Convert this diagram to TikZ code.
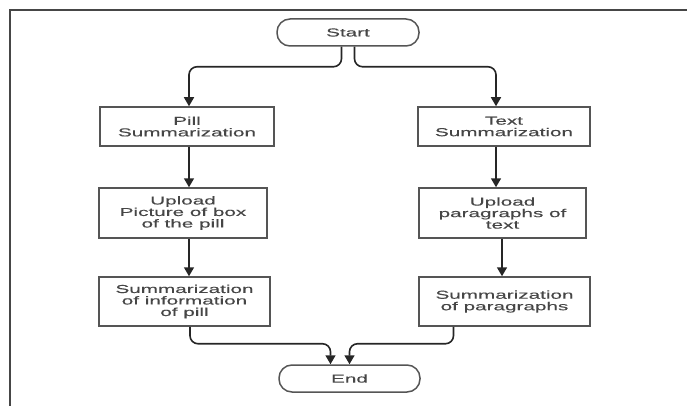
\documentclass[tikz,border=0pt]{standalone}
\usepackage{fontspec}
\setmainfont{Liberation Sans}[FakeStretch=1.8, FakeBold=0.2]
\usetikzlibrary{arrows.meta, positioning, calc}

\tikzset{
  stepbox/.style={draw=boxgrey, line width=1.5pt, text=textgrey, align=center,
    inner sep=0pt, font=\fontsize{11.5}{11.5}\selectfont},
  terminal/.style={stepbox, rounded corners=13pt},
  flow/.style={line width=1.6pt, draw=black!85, rounded corners=8pt,
    -{Triangle[width=10pt,length=9pt]}}
}

\begin{document}
\begin{tikzpicture}[x=1pt, y=-1pt]
  \definecolor{boxgrey}{RGB}{85,85,85}
  \definecolor{textgrey}{RGB}{70,70,70}
  \definecolor{framegrey}{RGB}{70,70,70}

  \useasboundingbox (0,0) rectangle (687,406);
  % outer frame (cut at right and bottom)
  \draw[framegrey, line width=2pt] (9.5,410) -- (9.5,10.5) -- (690,10.5);

  \node[terminal, minimum width=142pt, minimum height=27pt] (start) at (348,32.5) {Start};

  \node[stepbox, minimum width=174pt, minimum height=39pt] (pill) at (187,126.5) {Pill\\Summarization};
  \node[stepbox, minimum width=168pt, minimum height=50pt] (upic) at (183,213) {Upload\\Picture of box\\of the pill};
  \node[stepbox, minimum width=171pt, minimum height=49pt] (sinfo) at (184.5,301.5) {Summarization\\of information\\of pill};

  \node[stepbox, minimum width=172pt, minimum height=39pt] (text) at (504,126.5) {Text\\Summarization};
  \node[stepbox, minimum width=167pt, minimum height=50pt] (upara) at (502.5,213) {Upload\\paragraphs of\\text};
  \node[stepbox, minimum width=171pt, minimum height=49pt] (spara) at (504.5,301.5) {Summarization\\of paragraphs};

  \node[terminal, minimum width=141pt, minimum height=27pt] (end) at (349.5,378.5) {End};

  \draw[flow] ([xshift=-6.5pt]start.south) -- ++(0,20) -| ([xshift=2pt]pill.north);
  \draw[flow] ([xshift=6.5pt]start.south) -- ++(0,20) -| ([xshift=-8pt]text.north);

  \draw[flow] ([xshift=2pt]pill.south) -- ([xshift=6pt]upic.north);
  \draw[flow] ([xshift=6pt]upic.south) -- ([xshift=4.5pt]sinfo.north);
  \draw[flow] ([xshift=-8pt]text.south) -- ([xshift=-6.5pt]upara.north);
  \draw[flow] ([xshift=-0.5pt]upara.south) -- ([xshift=-2.5pt]spara.north);

  \draw[flow] ([xshift=5.5pt]sinfo.south) -- ++(0,17) -| ([xshift=-19pt]end.north);
  \draw[flow] ([xshift=-51pt]spara.south) -- ++(0,17) -| (end.north);
\end{tikzpicture}
\end{document}
